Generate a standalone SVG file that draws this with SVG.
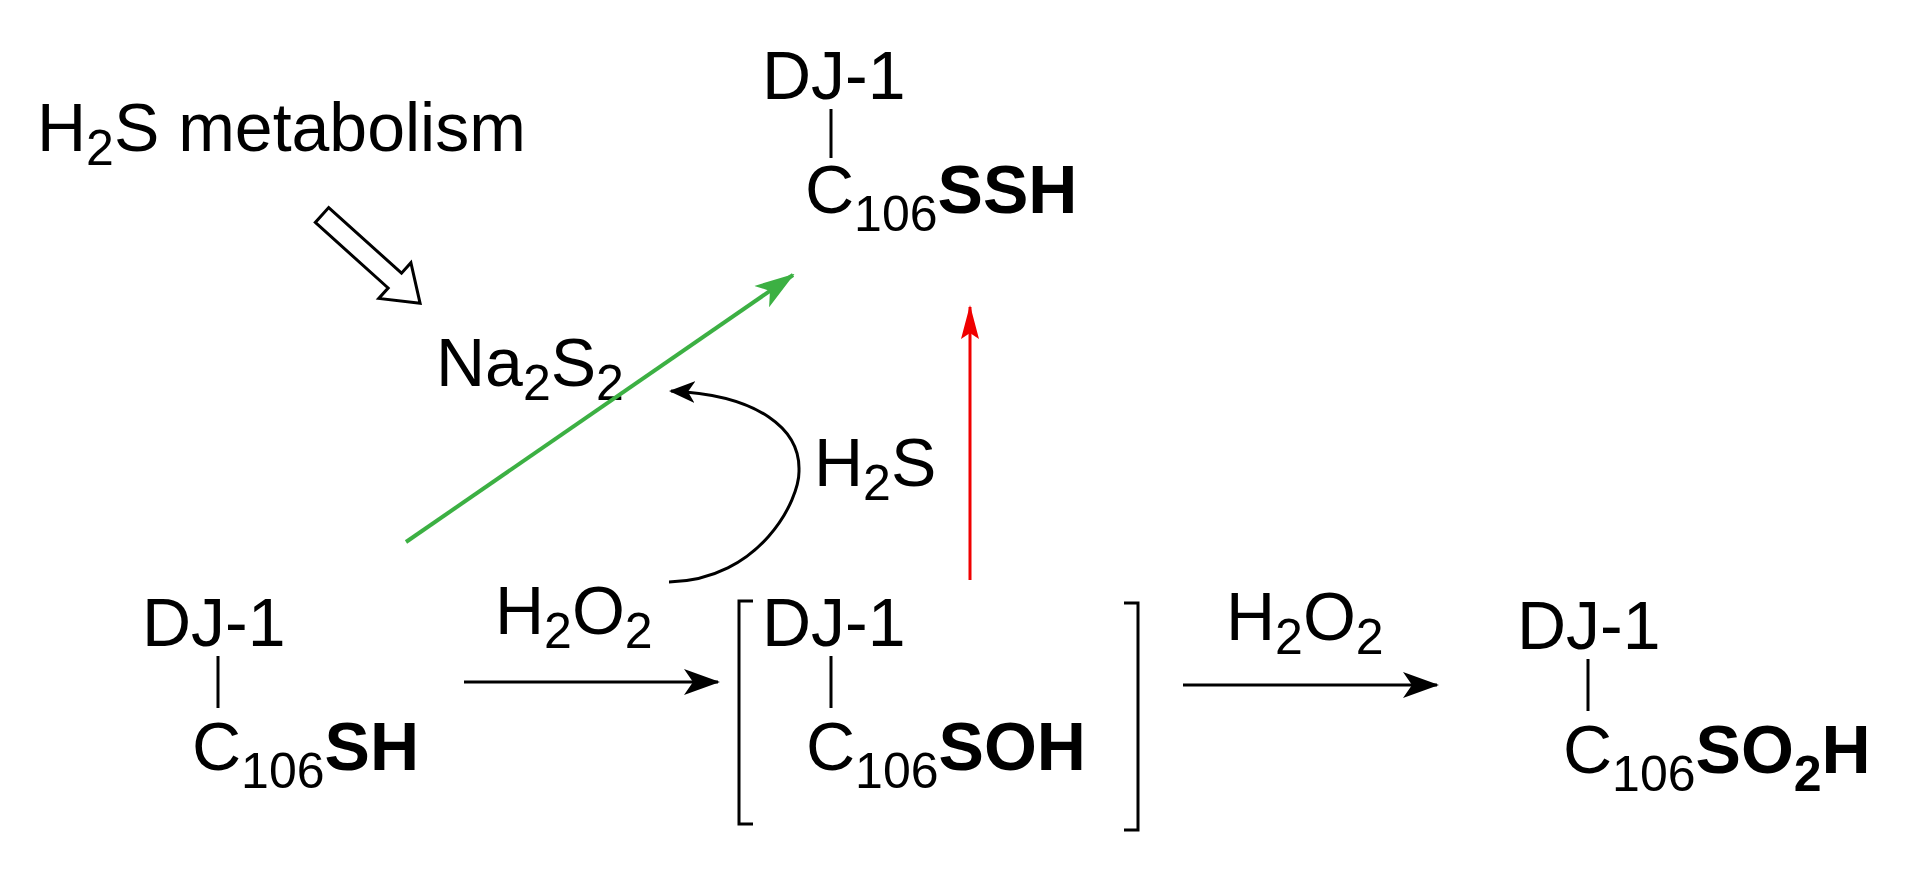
<svg xmlns="http://www.w3.org/2000/svg" width="1932" height="874" viewBox="0 0 1932 874">
<style>
text{font-family:"Liberation Sans",Arial,sans-serif;font-size:68px;fill:#000}
.s{font-size:50px}
.b{font-weight:bold}
.ln{stroke:#000;stroke-width:3;fill:none}
</style>
<defs>
<marker id="ak" markerWidth="36" markerHeight="30" refX="34" refY="15" orient="auto" markerUnits="userSpaceOnUse" viewBox="0 0 36 30"><path d="M0,2 L36,15 L0,28 L9,15 Z" fill="#000"/></marker>
<marker id="ak2" markerWidth="26" markerHeight="24" refX="24" refY="12" orient="auto" markerUnits="userSpaceOnUse" viewBox="0 0 26 24"><path d="M0,1 L26,12 L0,23 L7,12 Z" fill="#000"/></marker>
<marker id="ag" markerWidth="40" markerHeight="30" refX="38" refY="15" orient="auto" markerUnits="userSpaceOnUse" viewBox="0 0 40 30"><path d="M0,2 L40,15 L0,28 L10,15 Z" fill="#3cb043"/></marker>
<marker id="ar" markerWidth="34" markerHeight="20" refX="32" refY="10" orient="auto" markerUnits="userSpaceOnUse" viewBox="0 0 34 20"><path d="M0,1 L34,10 L0,19 L6,10 Z" fill="#f00000"/></marker>
</defs>
<g id="h2s-metabolism"><text x="37" y="151">H<tspan class="s" dy="14">2</tspan><tspan dy="-14">S metabolism</tspan></text></g>
<g id="ssh">
<text x="762" y="99">DJ-1</text>
<line class="ln" x1="831" y1="109" x2="831" y2="158"/>
<text x="805" y="213">C<tspan class="s" dy="18">106</tspan><tspan class="b" dy="-18">SSH</tspan></text>
</g>
<g id="na2s2"><text x="436" y="386">Na<tspan class="s" dy="14">2</tspan><tspan dy="-14">S</tspan><tspan class="s" dy="14">2</tspan></text></g>
<g id="h2s-label"><text x="814" y="486">H<tspan class="s" dy="14">2</tspan><tspan dy="-14">S</tspan></text></g>
<g id="sh">
<text x="142" y="646">DJ-1</text>
<line class="ln" x1="218" y1="656" x2="218" y2="708"/>
<text x="192" y="770">C<tspan class="s" dy="18">106</tspan><tspan class="b" dy="-18">SH</tspan></text>
</g>
<g id="h2o2-1"><text x="495" y="634">H<tspan class="s" dy="14">2</tspan><tspan dy="-14">O</tspan><tspan class="s" dy="14">2</tspan></text></g>
<g id="soh">
<path class="ln" d="M753,601 H739 V824 H753"/>
<path class="ln" d="M1124,603 H1138 V830 H1124"/>
<text x="762" y="646">DJ-1</text>
<line class="ln" x1="831" y1="656" x2="831" y2="708"/>
<text x="806" y="770">C<tspan class="s" dy="18">106</tspan><tspan class="b" dy="-18">SOH</tspan></text>
</g>
<g id="h2o2-2"><text x="1226" y="640">H<tspan class="s" dy="14">2</tspan><tspan dy="-14">O</tspan><tspan class="s" dy="14">2</tspan></text></g>
<g id="so2h">
<text x="1517" y="649">DJ-1</text>
<line class="ln" x1="1588" y1="659" x2="1588" y2="711"/>
<text x="1563" y="773">C<tspan class="s" dy="18">106</tspan><tspan class="b" dy="-18">SO</tspan><tspan class="b s" dy="18">2</tspan><tspan class="b" dy="-18">H</tspan></text>
</g>
<g id="connectors">
<path d="M0,-10 L98,-10 L98,-24 L132,0 L98,24 L98,10 L0,10 Z" transform="translate(322,215) rotate(42)" fill="#fff" stroke="#000" stroke-width="3"/>
<line x1="406" y1="542" x2="793" y2="275" stroke="#3cb043" stroke-width="4" marker-end="url(#ag)"/>
<line x1="970" y1="580" x2="970" y2="307" stroke="#f00000" stroke-width="3" marker-end="url(#ar)"/>
<path class="ln" d="M669,582 C760,580 800,500 799,470 C800,430 760,395 671,391" marker-end="url(#ak2)"/>
<line class="ln" x1="464" y1="682" x2="718" y2="682" stroke-width="4" marker-end="url(#ak)"/>
<line class="ln" x1="1183" y1="685" x2="1437" y2="685" stroke-width="4" marker-end="url(#ak)"/>
</g>
</svg>
